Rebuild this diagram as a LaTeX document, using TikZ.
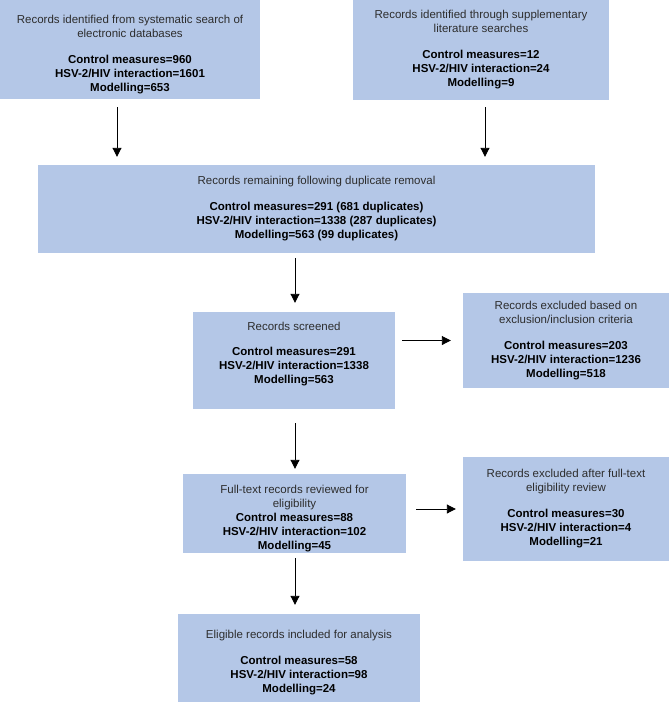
\documentclass[tikz,border=0pt]{standalone}
\usepackage{fontspec}
\setmainfont{Liberation Sans}
\usepackage{tikz}
\usetikzlibrary{arrows.meta}
\definecolor{boxblue}{RGB}{180,199,231}
\definecolor{headgray}{RGB}{45,45,45}
\newcommand{\tally}[1]{{\bfseries\color{black}#1}}

\begin{document}
\begin{tikzpicture}
	[x=1pt,y=-1pt,every node/.style={fill=boxblue,inner sep=0pt,align=center,text=headgray,font=\fontsize{11.5}{14}\selectfont},
	arr/.style={-{Triangle[length=9pt,width=9pt]},line width=0.9pt}]
	\useasboundingbox (0,0) rectangle (672,702);
	\node[minimum width=260pt,minimum height=99pt] (r1) at (130,49.5) {\rule{0pt}{18pt}Records identified from systematic search of\\electronic databases\\[12pt]\tally{Control measures=960}\\\tally{HSV-2/HIV interaction=1601}\\\tally{Modelling=653}};
	\node[minimum width=256pt,minimum height=100pt] (r2) at (481,50) {Records identified through supplementary\\literature searches\\[12pt]\tally{Control measures=12}\\\tally{HSV-2/HIV interaction=24}\\\tally{Modelling=9}};
	\node[minimum width=557pt,minimum height=88pt] (r3) at (316.5,209) {Records remaining following duplicate removal\\[12pt]\tally{Control measures=291 (681 duplicates)}\\\tally{HSV-2/HIV interaction=1338 (287 duplicates)}\\\tally{Modelling=563 (99 duplicates)}};
	\node[minimum width=202pt,minimum height=97pt] (r4) at (294,360.5) {Records screened\\[11pt]\tally{Control measures=291}\\\tally{HSV-2/HIV interaction=1338}\\\tally{Modelling=563}\\[2pt]\mbox{}};
	\node[minimum width=206pt,minimum height=95pt] (r5) at (566,340.5) {Records excluded based on\\exclusion/inclusion criteria\\[12pt]\tally{Control measures=203}\\\tally{HSV-2/HIV interaction=1236}\\\tally{Modelling=518}};
	\node[minimum width=223pt,minimum height=79pt] (r6) at (294.5,513.5) {\rule{0pt}{18pt}Full-text records reviewed for\\eligibility\\\tally{Control measures=88}\\\tally{HSV-2/HIV interaction=102}\\\tally{Modelling=45}};
	\node[minimum width=206pt,minimum height=104pt] (r7) at (566,509) {Records excluded after full-text\\eligibility review\\[12pt]\tally{Control measures=30}\hspace*{30pt}\\\tally{HSV-2/HIV interaction=4}\\\tally{Modelling=21}};
	\node[minimum width=242pt,minimum height=88pt] (r8) at (299,658) {\rule{0pt}{18pt}Eligible records included for analysis\\[12pt]\tally{Control measures=58}\\\tally{HSV-2/HIV interaction=98}\\\tally{Modelling=24}};
	
	\foreach \from/\to/\dx/\ga/\gb in {r1/r3/-13/8/8,r2/r3/4/7/8,r3/r4/-21.5/5/9,r4/r6/1/14/5,r6/r8/0.5/5/9}
	\draw[arr,shorten <=\ga pt,shorten >=\gb pt] ([xshift=\dx pt]\from.south) -- ([xshift=\dx pt]\from.south |- \to.north);
	\foreach \from/\to/\ga/\gb in {r4/r5/7/12,r6/r7/10/7}
	\draw[arr,shorten <=\ga pt,shorten >=\gb pt] (\from.east |- \to.west) -- (\to.west);
	
\end{tikzpicture}
\end{document}
